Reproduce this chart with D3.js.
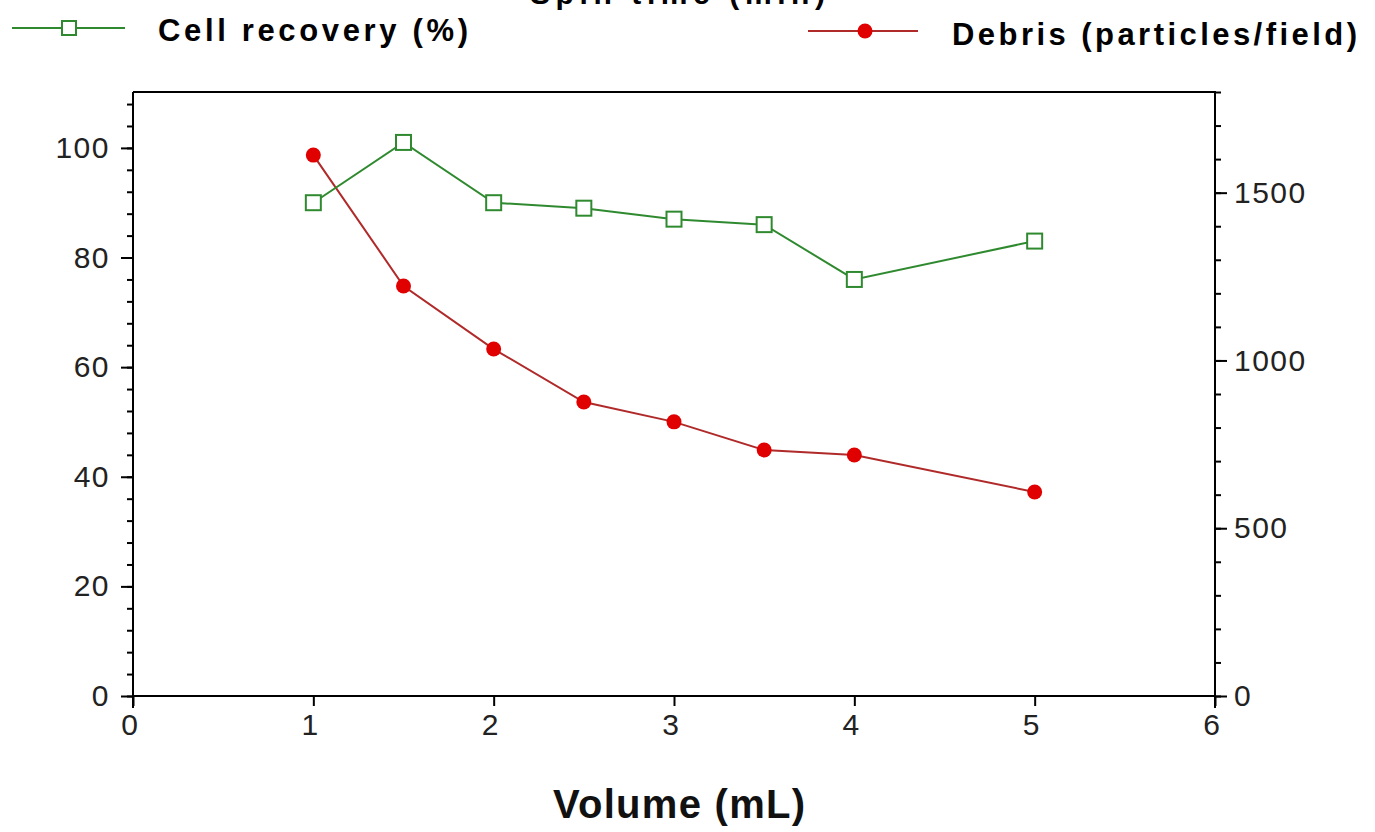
<!DOCTYPE html>
<html><head><meta charset="utf-8">
<script src="https://cdn.jsdelivr.net/npm/d3@7"></script>
<style>body{margin:0;background:#fff}svg{display:block}text{font-family:"Liberation Sans",Arial,sans-serif}</style>
</head><body><svg id="c" width="1375" height="832"></svg>
<script>
const volume = [1, 1.5, 2, 2.5, 3, 3.5, 4, 5];
const cellRecovery = [90, 101, 90, 89, 87, 86, 76, 83];
const debris = [1612, 1222, 1034, 876, 817, 733, 718, 608];
const xTicks = [0, 1, 2, 3, 4, 5, 6];
const leftTicks = [0, 20, 40, 60, 80, 100];
const rightTicks = [0, 500, 1000, 1500];
const labels = {x: "Volume (mL)", s1: "Cell recovery (%)", s2: "Debris (particles/field)", top: "Spin time (min)"};

const svg = d3.select("#c");
const L = 133, R = 1215, T = 92, B = 696;
const x = d3.scaleLinear().domain([0, 6]).range([L, R]);
const yL = d3.scaleLinear().domain([0, 110.2]).range([B, T]);
const yR = d3.scaleLinear().domain([0, 1800]).range([B, T]);
const green = "#2f8a2f", red = "#e00000", redLine = "#b02a2a";
const tickFont = 30, tickSpace = 1.5;

// clipped top title
svg.append("text").attr("x", 530).attr("y", 4).attr("font-size", 30).attr("font-weight", "bold")
  .attr("textLength", 295).text(labels.top);

// frame top
svg.append("line").attr("x1", L).attr("x2", R + 1).attr("y1", T).attr("y2", T).attr("stroke", "#000").attr("stroke-width", 2);

// left axis
const gl = svg.append("g").attr("transform", `translate(${L},0)`);
gl.call(d3.axisLeft(yL).tickValues(d3.range(0, 110, 4)).tickSize(6).tickFormat(""));
gl.selectAll(".tick line").attr("stroke-width", 2);
gl.select(".domain").attr("d", `M0,${T}V${B + 12}`).attr("stroke-width", 2);
const gl2 = svg.append("g").attr("transform", `translate(${L},0)`);
gl2.call(d3.axisLeft(yL).tickValues(leftTicks).tickSize(12).tickPadding(11));
gl2.selectAll(".domain").remove();
gl2.selectAll(".tick line").attr("stroke-width", 2);
gl2.selectAll(".tick text").attr("font-size", tickFont).attr("letter-spacing", tickSpace).attr("fill", "#222");

// right axis
const gr = svg.append("g").attr("transform", `translate(${R},0)`);
gr.call(d3.axisRight(yR).tickValues(d3.range(0, 1801, 100)).tickSize(6).tickFormat(""));
gr.selectAll(".tick line").attr("stroke-width", 2);
gr.select(".domain").attr("d", `M0,${T}V${B + 12}`).attr("stroke-width", 2);
const gr2 = svg.append("g").attr("transform", `translate(${R},0)`);
gr2.call(d3.axisRight(yR).tickValues(rightTicks).tickSize(12).tickPadding(7).tickFormat(d3.format("d")));
gr2.selectAll(".domain").remove();
gr2.selectAll(".tick line").attr("stroke-width", 2);
gr2.selectAll(".tick text").attr("font-size", tickFont).attr("letter-spacing", tickSpace).attr("fill", "#222");

// x axis
const gx = svg.append("g").attr("transform", `translate(0,${B})`);
gx.call(d3.axisBottom(x).tickValues(xTicks).tickSize(10).tickPadding(8).tickFormat(d3.format("d")));
gx.select(".domain").attr("d", `M${L},0H${R}`).attr("stroke-width", 2);
gx.selectAll(".tick line").attr("stroke-width", 2);
gx.selectAll(".tick text").attr("font-size", tickFont).attr("fill", "#222").attr("dx", -4);

svg.append("text").attr("x", 679).attr("y", 818).attr("text-anchor", "middle")
  .attr("font-size", 40).attr("font-weight", "bold").attr("fill", "#111")
  .attr("textLength", 252).text(labels.x);

// series
const lineG = d3.line().x((d, i) => x(volume[i])).y(d => yL(d));
const lineR = d3.line().x((d, i) => x(volume[i])).y(d => yR(d));
svg.append("path").attr("d", lineR(debris)).attr("fill", "none").attr("stroke", redLine).attr("stroke-width", 2);
svg.append("path").attr("d", lineG(cellRecovery)).attr("fill", "none").attr("stroke", green).attr("stroke-width", 2);
svg.selectAll(".dot").data(debris).enter().append("circle")
  .attr("cx", (d, i) => x(volume[i])).attr("cy", d => yR(d)).attr("r", 7.5).attr("fill", red);
svg.selectAll(".sq").data(cellRecovery).enter().append("rect")
  .attr("x", (d, i) => x(volume[i]) - 7.5).attr("y", d => yL(d) - 7.5)
  .attr("width", 15).attr("height", 15).attr("fill", "#fff").attr("stroke", green).attr("stroke-width", 2);

// legend
svg.append("line").attr("x1", 12).attr("x2", 125).attr("y1", 28).attr("y2", 28).attr("stroke", green).attr("stroke-width", 2);
svg.append("rect").attr("x", 62).attr("y", 21).attr("width", 14).attr("height", 14).attr("fill", "#fff").attr("stroke", green).attr("stroke-width", 2);
svg.append("text").attr("x", 158).attr("y", 41).attr("font-size", 31).attr("font-weight", "bold").attr("textLength", 310).text(labels.s1);
svg.append("line").attr("x1", 808).attr("x2", 918).attr("y1", 31).attr("y2", 31).attr("stroke", redLine).attr("stroke-width", 2);
svg.append("circle").attr("cx", 865).attr("cy", 31).attr("r", 7.5).attr("fill", red);
svg.append("text").attr("x", 952).attr("y", 45).attr("font-size", 31).attr("font-weight", "bold").attr("textLength", 405).text(labels.s2);
</script></body></html>
